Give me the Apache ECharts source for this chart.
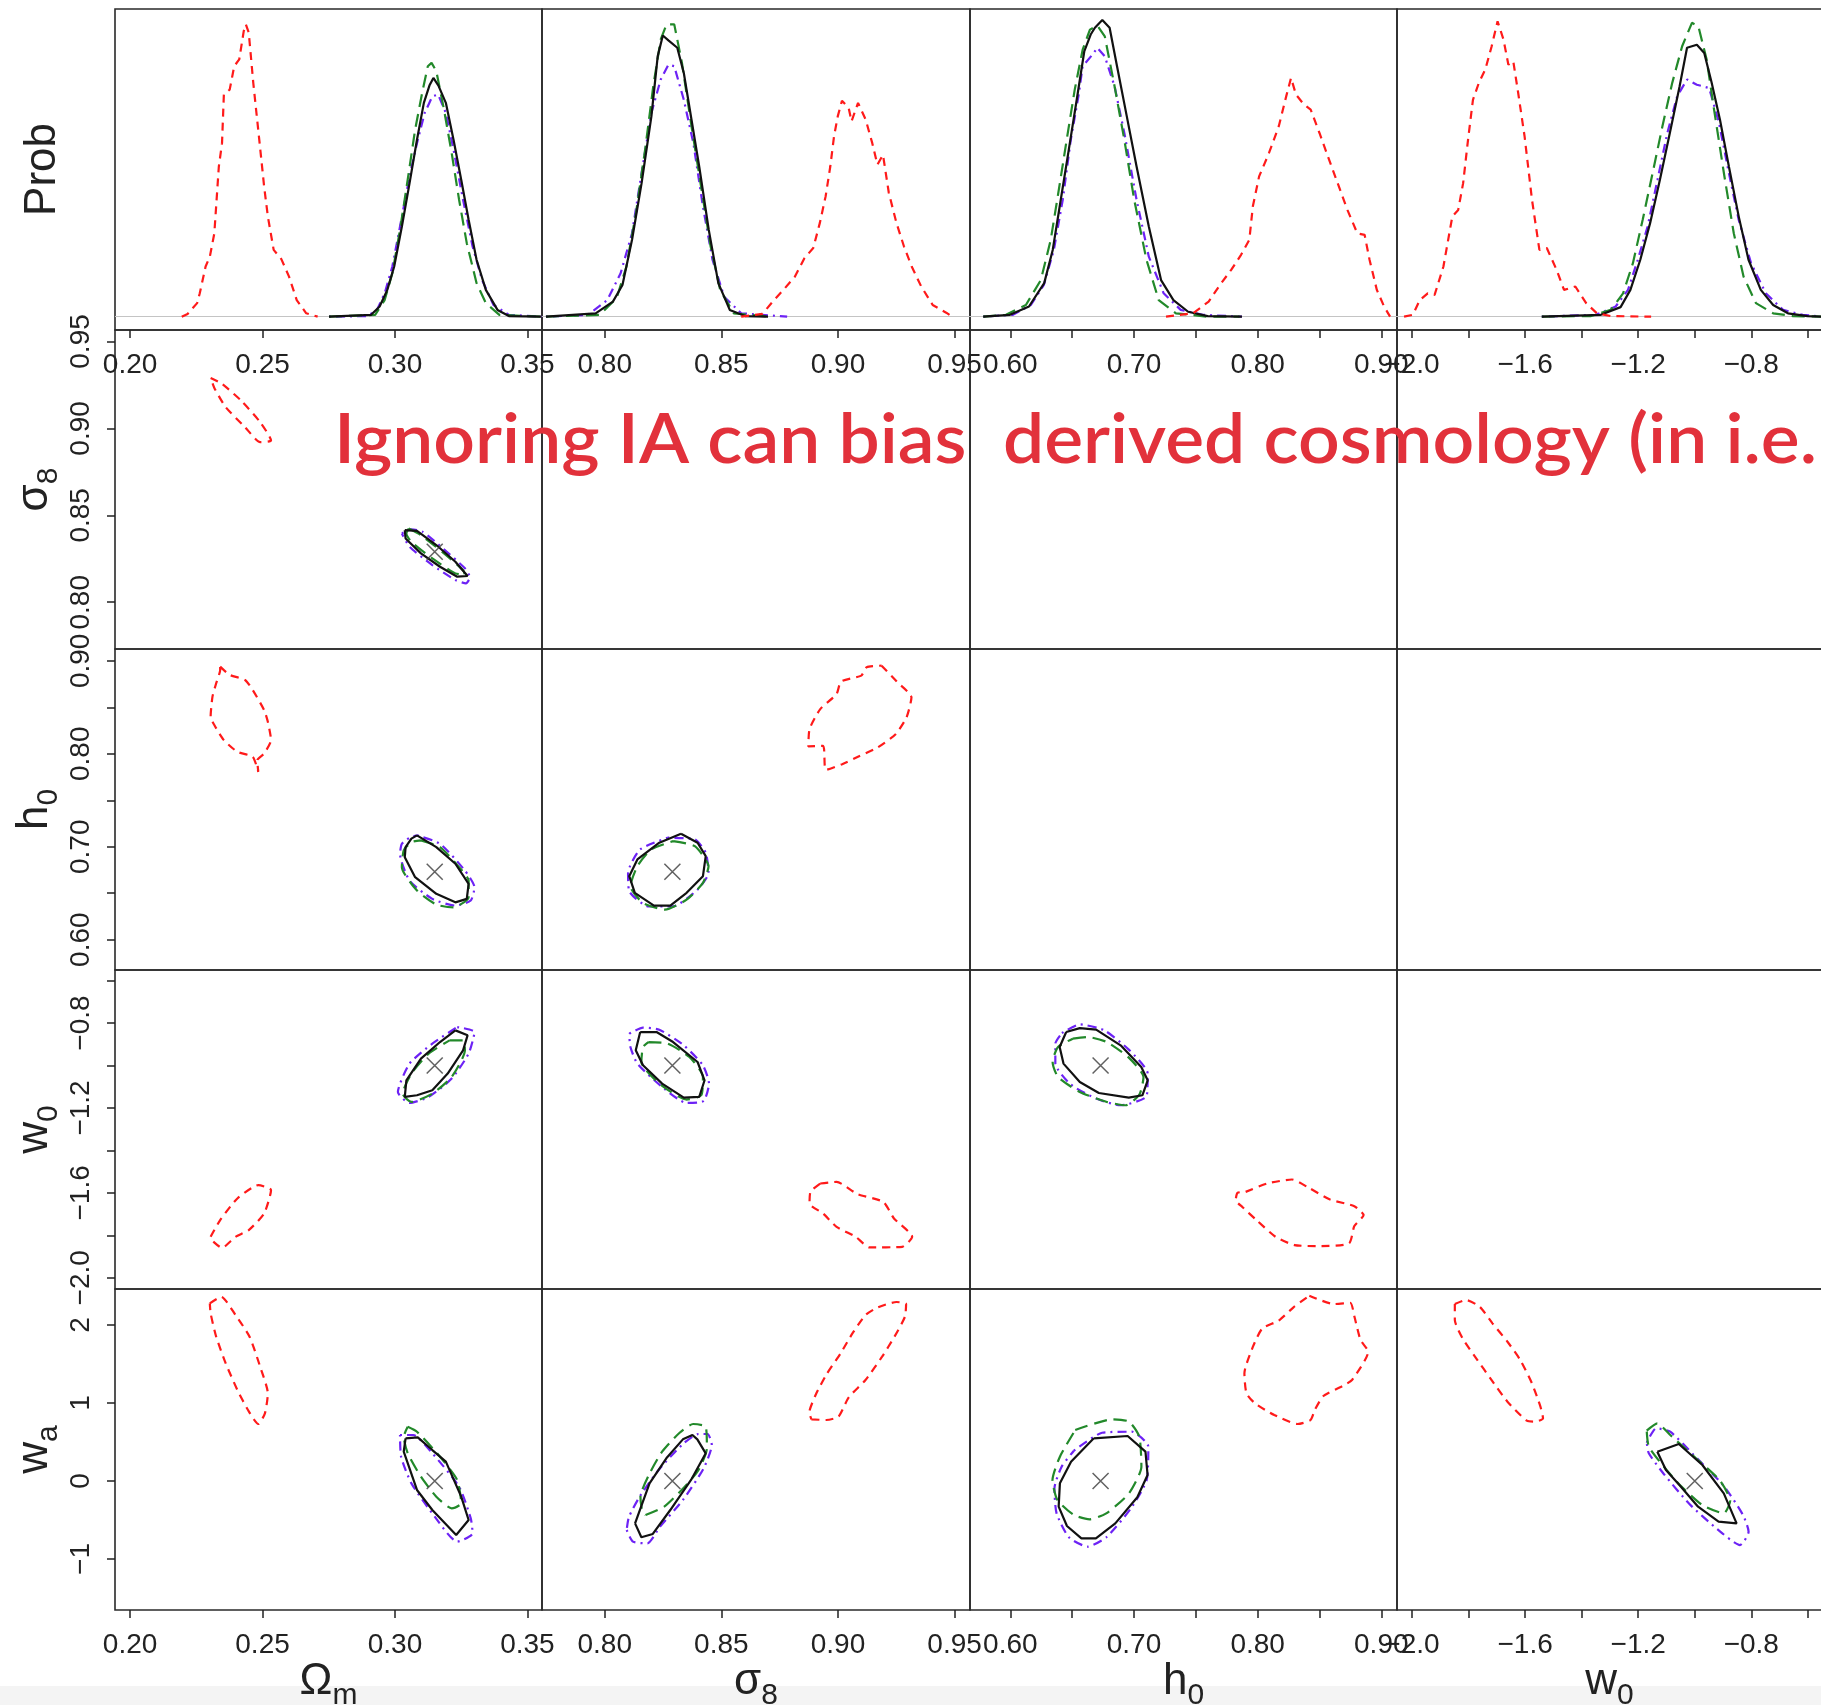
<!DOCTYPE html>
<html>
<head>
<meta charset="utf-8">
<script src="https://cdn.jsdelivr.net/npm/echarts@6/dist/echarts.min.js"></script>
<style>
html, body { margin: 0; padding: 0; background: #fff; }
#chart { width: 1821px; height: 1705px; }
</style>
</head>
<body>
<div id="chart"></div>
<script>
// parameters (order of rows / columns)
const paramNames = ['{m|Ω}{s|m}', '{m|σ}{s|8}', '{m|h}{s|0}', '{m|w}{s|0}', '{m|w}{s|a}']
const fiducial = [0.315, 0.829, 0.673, -1.0, 0.0]

// axis ranges
const omRange = [0.1943, 0.3555]
const s8Range = [0.7731, 0.9566]
const h0Range = [0.5674, 0.9127]
const w0Range = [-2.053, -0.550]
const waRange = [-1.654, 2.462]
const probRange = [-0.0433, 1.0]

// ticks and tick labels
const omTicks = [0.20, 0.25, 0.30, 0.35]
const omLabels = [0.20, 0.25, 0.30, 0.35]
const s8Ticks = [0.80, 0.85, 0.90, 0.95]
const s8Labels = [0.80, 0.85, 0.90, 0.95]
const h0Ticks = [0.60, 0.65, 0.70, 0.75, 0.80, 0.85, 0.90]
const h0Labels = [0.60, 0.70, 0.80, 0.90]
const w0Ticks = [-2.0, -1.8, -1.6, -1.4, -1.2, -1.0, -0.8, -0.6]
const w0Labels = [-2.0, -1.6, -1.2, -0.8]
const waTicks = [-1, 0, 1, 2]
const waLabels = [-1, 0, 1, 2]

// 1D marginals [value, prob]
const om1dBlack = [[0.2751,0],[0.2910,0.006],[0.2942,0.033],[0.2971,0.087],[0.2997,0.163],[0.3026,0.293],[0.3055,0.434],[0.3083,0.575],[0.3109,0.695],[0.3130,0.751],[0.3145,0.776],[0.3164,0.751],[0.3192,0.695],[0.3221,0.575],[0.3250,0.445],[0.3278,0.315],[0.3308,0.185],[0.3343,0.087],[0.3387,0.022],[0.3430,0.002],[0.3553,0]]
const om1dGreen = [[0.2751,0],[0.2925,0.006],[0.2961,0.054],[0.2990,0.141],[0.3019,0.282],[0.3048,0.445],[0.3076,0.608],[0.3105,0.738],[0.3124,0.814],[0.3138,0.825],[0.3156,0.798],[0.3185,0.673],[0.3214,0.532],[0.3242,0.380],[0.3271,0.239],[0.3308,0.109],[0.3343,0.044],[0.3394,0.006],[0.3553,0]]
const om1dPurple = [[0.2751,0],[0.2896,0.002],[0.2932,0.022],[0.2961,0.076],[0.2990,0.163],[0.3019,0.293],[0.3055,0.456],[0.3083,0.564],[0.3112,0.662],[0.3141,0.716],[0.3163,0.722],[0.3192,0.662],[0.3221,0.543],[0.3257,0.380],[0.3293,0.228],[0.3329,0.119],[0.3372,0.038],[0.3430,0.006],[0.3553,0]]
const om1dRed = [[0.2195,0],[0.2217,0.009],[0.2253,0.044],[0.2263,0.076],[0.2285,0.163],[0.2301,0.195],[0.2318,0.271],[0.2335,0.488],[0.2347,0.564],[0.2354,0.722],[0.2376,0.738],[0.2393,0.814],[0.2412,0.836],[0.2429,0.928],[0.2437,0.950],[0.2448,0.923],[0.2465,0.760],[0.2489,0.564],[0.2506,0.423],[0.2520,0.326],[0.2542,0.217],[0.2571,0.187],[0.2600,0.130],[0.2629,0.054],[0.2665,0.011],[0.2708,0]]

const s81dBlack = [[0.7748,0],[0.7961,0.011],[0.8035,0.049],[0.8076,0.103],[0.8117,0.250],[0.8158,0.434],[0.8200,0.651],[0.8227,0.846],[0.8249,0.914],[0.8273,0.898],[0.8311,0.874],[0.8339,0.792],[0.8372,0.640],[0.8405,0.488],[0.8446,0.282],[0.8487,0.109],[0.8536,0.022],[0.8602,0.002],[0.8700,0]]
const s81dGreen = [[0.7748,0],[0.7978,0.006],[0.8051,0.060],[0.8093,0.163],[0.8134,0.337],[0.8175,0.553],[0.8208,0.749],[0.8240,0.901],[0.8265,0.950],[0.8298,0.950],[0.8331,0.825],[0.8372,0.619],[0.8413,0.423],[0.8454,0.228],[0.8495,0.087],[0.8553,0.011],[0.8700,0]]
const s81dPurple = [[0.7748,0],[0.7928,0.006],[0.8011,0.054],[0.8068,0.141],[0.8117,0.271],[0.8158,0.467],[0.8200,0.662],[0.8240,0.771],[0.8273,0.819],[0.8298,0.814],[0.8339,0.705],[0.8380,0.564],[0.8421,0.358],[0.8462,0.185],[0.8512,0.065],[0.8585,0.011],[0.8782,0]]
const s81dRed = [[0.8585,0],[0.8676,0.009],[0.8720,0.049],[0.8766,0.087],[0.8815,0.130],[0.8856,0.190],[0.8894,0.223],[0.8922,0.304],[0.8947,0.391],[0.8967,0.488],[0.8983,0.586],[0.8999,0.651],[0.9017,0.702],[0.9046,0.678],[0.9058,0.635],[0.9086,0.695],[0.9119,0.640],[0.9147,0.564],[0.9169,0.494],[0.9193,0.526],[0.9218,0.402],[0.9251,0.304],[0.9283,0.228],[0.9316,0.163],[0.9357,0.098],[0.9406,0.038],[0.9464,0.013],[0.9485,0.002]]

const h01dBlack = [[0.5781,0],[0.5997,0.006],[0.6151,0.033],[0.6274,0.109],[0.6343,0.217],[0.6408,0.380],[0.6473,0.543],[0.6537,0.705],[0.6598,0.862],[0.6650,0.917],[0.6684,0.939],[0.6744,0.964],[0.6803,0.939],[0.6863,0.814],[0.6942,0.651],[0.7021,0.488],[0.7120,0.293],[0.7219,0.119],[0.7319,0.054],[0.7438,0.016],[0.7596,0.002],[0.7873,0]]
const h01dGreen = [[0.5781,0],[0.5965,0.006],[0.6126,0.038],[0.6247,0.119],[0.6327,0.250],[0.6392,0.412],[0.6456,0.575],[0.6521,0.738],[0.6585,0.868],[0.6644,0.933],[0.6704,0.946],[0.6764,0.911],[0.6843,0.749],[0.6922,0.575],[0.7002,0.380],[0.7101,0.185],[0.7200,0.054],[0.7339,0.011],[0.7596,0],[0.7854,0]]
const h01dPurple = [[0.5781,0],[0.6021,0.006],[0.6166,0.038],[0.6271,0.103],[0.6352,0.217],[0.6424,0.380],[0.6489,0.575],[0.6553,0.722],[0.6585,0.814],[0.6665,0.852],[0.6704,0.874],[0.6764,0.846],[0.6843,0.749],[0.6922,0.597],[0.7021,0.380],[0.7120,0.195],[0.7240,0.076],[0.7378,0.022],[0.7556,0.006],[0.7873,0]]
const h01dRed = [[0.7259,0],[0.7477,0.011],[0.7604,0.049],[0.7695,0.103],[0.7786,0.152],[0.7866,0.201],[0.7933,0.250],[0.7961,0.358],[0.8012,0.456],[0.8092,0.532],[0.8171,0.619],[0.8231,0.716],[0.8270,0.776],[0.8310,0.722],[0.8369,0.692],[0.8429,0.673],[0.8500,0.597],[0.8568,0.521],[0.8647,0.434],[0.8726,0.347],[0.8806,0.271],[0.8865,0.266],[0.8905,0.185],[0.8964,0.087],[0.9023,0.033],[0.9071,0]]

const w01dBlack = [[-1.5409,0],[-1.3320,0.006],[-1.2623,0.031],[-1.2276,0.087],[-1.1926,0.185],[-1.1579,0.304],[-1.1232,0.445],[-1.0881,0.597],[-1.0535,0.749],[-1.0273,0.874],[-0.9926,0.884],[-0.9664,0.857],[-0.9402,0.760],[-0.9108,0.640],[-0.8793,0.488],[-0.8446,0.326],[-0.8099,0.185],[-0.7664,0.087],[-0.7228,0.038],[-0.6704,0.011],[-0.6010,0.002],[-0.5522,0]]
const w01dGreen = [[-1.5409,0],[-1.3667,0.002],[-1.2970,0.022],[-1.2535,0.076],[-1.2187,0.174],[-1.1841,0.315],[-1.1490,0.467],[-1.1143,0.619],[-1.0796,0.760],[-1.0446,0.879],[-1.0099,0.955],[-0.9873,0.944],[-0.9579,0.836],[-0.9317,0.673],[-0.8970,0.467],[-0.8620,0.271],[-0.8273,0.130],[-0.7837,0.044],[-0.7228,0.011],[-0.6531,0.002],[-0.5522,0]]
const w01dPurple = [[-1.5409,0],[-1.3494,0.006],[-1.2797,0.033],[-1.2361,0.087],[-1.2014,0.185],[-1.1667,0.293],[-1.1317,0.445],[-1.0970,0.597],[-1.0623,0.716],[-1.0273,0.771],[-0.9926,0.754],[-0.9490,0.743],[-0.9143,0.630],[-0.8793,0.467],[-0.8446,0.315],[-0.8010,0.174],[-0.7487,0.076],[-0.6878,0.022],[-0.6181,0.006],[-0.5522,0]]
const w01dRed = [[-2.0280,0],[-1.9968,0.006],[-1.9724,0.054],[-1.9444,0.076],[-1.9200,0.071],[-1.8888,0.163],[-1.8573,0.326],[-1.8365,0.347],[-1.8191,0.434],[-1.8018,0.575],[-1.7844,0.705],[-1.7635,0.760],[-1.7409,0.803],[-1.7182,0.879],[-1.6973,0.960],[-1.6765,0.901],[-1.6591,0.819],[-1.6418,0.830],[-1.6244,0.727],[-1.6018,0.586],[-1.5756,0.380],[-1.5494,0.217],[-1.5232,0.223],[-1.4885,0.152],[-1.4623,0.087],[-1.4223,0.098],[-1.3841,0.044],[-1.3459,0.011],[-1.2970,0.002],[-1.1543,0]]

// 2D contours [x, y]
const omS8Black = [[0.3037,0.8415],[0.3083,0.8411],[0.3156,0.8329],[0.3228,0.8233],[0.3274,0.8151],[0.3235,0.8147],[0.3170,0.8204],[0.3098,0.8281],[0.3040,0.8367]]
const omS8Green = [[0.3052,0.8424],[0.3098,0.8386],[0.3185,0.8281],[0.3257,0.8185],[0.3264,0.8157],[0.3228,0.8166],[0.3141,0.8252],[0.3062,0.8347],[0.3043,0.8396]]
const omS8Purple = [[0.3026,0.8396],[0.3062,0.8419],[0.3105,0.8405],[0.3185,0.8304],[0.3264,0.8195],[0.3283,0.8143],[0.3268,0.8109],[0.3228,0.8128],[0.3141,0.8214],[0.3055,0.8319]]
const omS8Red = [[0.2304,0.9290],[0.2347,0.9256],[0.2419,0.9160],[0.2491,0.9036],[0.2532,0.8931],[0.2491,0.8921],[0.2434,0.9007],[0.2361,0.9122],[0.2318,0.9233]]

const omH0Black = [[0.3083,0.7122],[0.3156,0.6996],[0.3228,0.6817],[0.3278,0.6601],[0.3271,0.6439],[0.3228,0.6402],[0.3156,0.6493],[0.3076,0.6672],[0.3037,0.6888],[0.3040,0.6996],[0.3062,0.7087]]
const omH0Green = [[0.3098,0.7068],[0.3170,0.6996],[0.3242,0.6780],[0.3278,0.6636],[0.3278,0.6456],[0.3221,0.6348],[0.3156,0.6378],[0.3083,0.6529],[0.3026,0.6780],[0.3033,0.6960],[0.3062,0.7050]]
const omH0Purple = [[0.3083,0.7122],[0.3170,0.7032],[0.3264,0.6744],[0.3300,0.6564],[0.3286,0.6421],[0.3228,0.6367],[0.3141,0.6439],[0.3055,0.6636],[0.3019,0.6924],[0.3026,0.7032],[0.3055,0.7097]]
const omH0Red = [[0.2340,0.8937],[0.2376,0.8848],[0.2434,0.8794],[0.2463,0.8686],[0.2506,0.8470],[0.2520,0.8344],[0.2532,0.8147],[0.2506,0.8003],[0.2480,0.7931],[0.2484,0.7805],[0.2463,0.7967],[0.2405,0.8021],[0.2354,0.8147],[0.2318,0.8309],[0.2304,0.8398],[0.2311,0.8614],[0.2325,0.8759],[0.2340,0.8902]]

const omW0Black = [[0.3228,-0.8344],[0.3274,-0.8579],[0.3257,-0.9285],[0.3199,-1.0381],[0.3141,-1.1167],[0.3083,-1.1402],[0.3037,-1.1482],[0.3043,-1.0696],[0.3098,-0.9675],[0.3170,-0.8894]]
const omW0Green = [[0.3206,-0.8814],[0.3257,-0.8814],[0.3264,-0.9285],[0.3214,-1.0541],[0.3141,-1.1324],[0.3062,-1.1718],[0.3029,-1.1324],[0.3062,-1.0381],[0.3127,-0.9440]]
const omW0Purple = [[0.3235,-0.8188],[0.3300,-0.8424],[0.3278,-0.9440],[0.3214,-1.0616],[0.3127,-1.1482],[0.3055,-1.1765],[0.3011,-1.1247],[0.3055,-0.9911],[0.3141,-0.8969]]
const omW0Red = [[0.2304,-1.8071],[0.2340,-1.7285],[0.2405,-1.6264],[0.2484,-1.5638],[0.2532,-1.5873],[0.2506,-1.6969],[0.2448,-1.7755],[0.2398,-1.8071],[0.2347,-1.8588],[0.2308,-1.8226]]

const omWaBlack = [[0.3040,0.547],[0.3086,0.560],[0.3141,0.397],[0.3192,0.248],[0.3250,-0.201],[0.3278,-0.500],[0.3231,-0.692],[0.3141,-0.372],[0.3083,-0.115],[0.3033,0.376]]
const omWaGreen = [[0.3048,0.696],[0.3083,0.632],[0.3170,0.312],[0.3235,0.013],[0.3250,-0.286],[0.3214,-0.350],[0.3156,-0.201],[0.3098,0.055],[0.3048,0.355],[0.3033,0.568]]
const omWaPurple = [[0.3019,0.590],[0.3069,0.590],[0.3141,0.355],[0.3242,-0.073],[0.3286,-0.479],[0.3293,-0.671],[0.3235,-0.778],[0.3141,-0.415],[0.3062,-0.030],[0.3023,0.312]]
const omWaRed = [[0.2301,2.278],[0.2344,2.363],[0.2398,2.128],[0.2451,1.850],[0.2491,1.465],[0.2520,1.124],[0.2509,0.868],[0.2484,0.731],[0.2445,0.910],[0.2405,1.167],[0.2361,1.509],[0.2325,1.850],[0.2304,2.150]]

const s8H0Black = [[0.8327,0.7140],[0.8398,0.7043],[0.8433,0.6899],[0.8421,0.6683],[0.8351,0.6504],[0.8281,0.6367],[0.8211,0.6367],[0.8129,0.6504],[0.8105,0.6683],[0.8140,0.6863],[0.8234,0.7043]]
const s8H0Green = [[0.8293,0.7060],[0.8386,0.7006],[0.8445,0.6791],[0.8421,0.6611],[0.8351,0.6431],[0.8258,0.6324],[0.8164,0.6396],[0.8110,0.6575],[0.8140,0.6791],[0.8199,0.6971]]
const s8H0Purple = [[0.8269,0.7097],[0.8386,0.7079],[0.8433,0.6935],[0.8445,0.6719],[0.8398,0.6539],[0.8293,0.6359],[0.8187,0.6359],[0.8105,0.6521],[0.8100,0.6719],[0.8152,0.6971]]
const s8H0Red = [[0.9187,0.8948],[0.9252,0.8776],[0.9315,0.8607],[0.9294,0.8392],[0.9247,0.8211],[0.9170,0.8068],[0.9088,0.7971],[0.9018,0.7888],[0.8948,0.7826],[0.8936,0.8085],[0.8873,0.8079],[0.8878,0.8265],[0.8924,0.8481],[0.8994,0.8643],[0.9013,0.8776],[0.9100,0.8841],[0.9123,0.8931]]

const s8W0Black = [[0.8152,-0.8424],[0.8222,-0.8424],[0.8293,-0.8894],[0.8398,-0.9835],[0.8428,-1.0696],[0.8405,-1.1482],[0.8339,-1.1510],[0.8246,-1.0852],[0.8164,-0.9991],[0.8133,-0.9285]]
const s8W0Green = [[0.8187,-0.8894],[0.8269,-0.8969],[0.8363,-0.9600],[0.8421,-1.0541],[0.8414,-1.1402],[0.8351,-1.1605],[0.8234,-1.0852],[0.8157,-0.9835],[0.8164,-0.9129]]
const s8W0Purple = [[0.8105,-0.8499],[0.8164,-0.8216],[0.8234,-0.8311],[0.8339,-0.9050],[0.8421,-0.9991],[0.8447,-1.0852],[0.8424,-1.1671],[0.8351,-1.1765],[0.8246,-1.1012],[0.8140,-0.9911],[0.8110,-0.9129]]
const s8W0Red = [[0.8924,-1.5558],[0.8994,-1.5482],[0.9084,-1.6061],[0.9194,-1.6424],[0.9240,-1.7205],[0.9318,-1.8071],[0.9276,-1.8541],[0.9135,-1.8569],[0.9076,-1.8071],[0.8994,-1.7600],[0.8936,-1.6969],[0.8878,-1.6499],[0.8882,-1.5953]]

const h0W0Black = [[0.6452,-0.8424],[0.6562,-0.8236],[0.6694,-0.8311],[0.6892,-0.9050],[0.7059,-1.0071],[0.7111,-1.0696],[0.7068,-1.1402],[0.6958,-1.1510],[0.6716,-1.1294],[0.6562,-1.0776],[0.6430,-0.9911],[0.6399,-0.9129]]
const h0W0Green = [[0.6505,-0.8734],[0.6627,-0.8659],[0.6781,-0.8894],[0.6958,-0.9628],[0.7077,-1.0541],[0.7045,-1.1355],[0.6935,-1.1873],[0.6781,-1.1718],[0.6562,-1.1247],[0.6386,-1.0541],[0.6342,-0.9835],[0.6386,-0.9129]]
const h0W0Purple = [[0.6417,-0.8471],[0.6562,-0.8061],[0.6760,-0.8344],[0.6958,-0.9251],[0.7111,-1.0381],[0.7102,-1.1449],[0.6892,-1.1873],[0.6694,-1.1558],[0.6487,-1.0885],[0.6364,-0.9911],[0.6364,-0.8969]]
const h0W0Red = [[0.7903,-1.5953],[0.8079,-1.5558],[0.8277,-1.5370],[0.8409,-1.5746],[0.8585,-1.6311],[0.8782,-1.6626],[0.8857,-1.7049],[0.8782,-1.7567],[0.8739,-1.8381],[0.8497,-1.8508],[0.8298,-1.8461],[0.8145,-1.8071],[0.7991,-1.7285],[0.7881,-1.6688],[0.7823,-1.6344],[0.7837,-1.6000]]

const s8WaBlack = [[0.8130,-0.543],[0.8157,-0.722],[0.8206,-0.679],[0.8281,-0.372],[0.8370,0.013],[0.8433,0.355],[0.8397,0.534],[0.8376,0.590],[0.8335,0.534],[0.8264,0.291],[0.8192,-0.030]]
const s8WaGreen = [[0.8175,-0.436],[0.8255,-0.329],[0.8343,-0.073],[0.8402,0.141],[0.8438,0.419],[0.8433,0.696],[0.8379,0.731],[0.8321,0.619],[0.8246,0.376],[0.8189,0.077],[0.8153,-0.201],[0.8160,-0.372]]
const s8WaPurple = [[0.8094,-0.628],[0.8121,-0.778],[0.8183,-0.799],[0.8237,-0.585],[0.8335,-0.244],[0.8424,0.162],[0.8459,0.461],[0.8441,0.603],[0.8402,0.603],[0.8335,0.474],[0.8231,0.141],[0.8148,-0.209],[0.8103,-0.466]]
const s8WaRed = [[0.8886,0.791],[0.8949,0.782],[0.9002,0.825],[0.9046,1.073],[0.9118,1.295],[0.9189,1.594],[0.9242,1.850],[0.9287,2.106],[0.9292,2.269],[0.9251,2.295],[0.9171,2.227],[0.9118,2.128],[0.9064,1.902],[0.9011,1.637],[0.8949,1.359],[0.8904,1.103],[0.8877,0.876]]

const h0WaBlack = [[0.6675,0.547],[0.6949,0.577],[0.7093,0.376],[0.7110,0.077],[0.7027,-0.209],[0.6849,-0.543],[0.6692,-0.735],[0.6575,-0.735],[0.6458,-0.577],[0.6391,-0.329],[0.6401,-0.030],[0.6491,0.248]]
const h0WaGreen = [[0.6525,0.654],[0.6826,0.791],[0.6960,0.761],[0.7043,0.568],[0.7060,0.184],[0.6960,-0.158],[0.6776,-0.415],[0.6642,-0.491],[0.6514,-0.436],[0.6381,-0.244],[0.6341,0.013],[0.6401,0.312]]
const h0WaPurple = [[0.6514,0.389],[0.6742,0.619],[0.6983,0.632],[0.7116,0.440],[0.7103,0.013],[0.6976,-0.350],[0.6776,-0.722],[0.6625,-0.842],[0.6474,-0.722],[0.6374,-0.415],[0.6357,-0.094],[0.6415,0.184]]
const h0WaRed = [[0.8418,2.376],[0.8618,2.269],[0.8749,2.286],[0.8783,2.106],[0.8832,1.808],[0.8894,1.658],[0.8763,1.295],[0.8687,1.218],[0.8532,1.090],[0.8462,0.910],[0.8428,0.782],[0.8324,0.731],[0.8135,0.846],[0.7979,0.996],[0.7910,1.124],[0.7893,1.381],[0.7962,1.722],[0.8038,1.957],[0.8169,2.055],[0.8290,2.227]]

const w0WaBlack = [[-1.1324,0.376],[-1.0563,0.474],[-0.9731,0.205],[-0.8973,-0.158],[-0.8520,-0.543],[-0.9158,-0.521],[-0.9883,-0.329],[-1.0489,-0.073],[-1.1019,0.141]]
const w0WaGreen = [[-1.1699,0.645],[-1.1324,0.739],[-1.0867,0.590],[-0.9958,0.291],[-0.9126,0.013],[-0.8747,-0.253],[-0.8973,-0.415],[-0.9731,-0.308],[-1.0489,-0.064],[-1.1094,0.184],[-1.1625,0.440]]
const w0WaPurple = [[-1.1699,0.491],[-1.1367,0.676],[-1.0867,0.632],[-1.0035,0.333],[-0.8973,-0.064],[-0.8294,-0.436],[-0.8096,-0.650],[-0.8400,-0.821],[-0.9278,-0.594],[-1.0188,-0.295],[-1.1094,0.090],[-1.1625,0.355]]
const w0WaRed = [[-1.8485,2.269],[-1.8092,2.321],[-1.7607,2.235],[-1.7154,2.022],[-1.6623,1.786],[-1.6170,1.551],[-1.5759,1.253],[-1.5458,0.953],[-1.5366,0.804],[-1.5639,0.761],[-1.5940,0.773],[-1.6623,1.017],[-1.7228,1.316],[-1.7685,1.551],[-1.8212,1.829],[-1.8485,2.064]]

const FONT = '"Liberation Sans", Arial, Helvetica, sans-serif'
const INK = '#222'

const paramRanges = [omRange, s8Range, h0Range, w0Range, waRange]
const paramTicks = [omTicks, s8Ticks, h0Ticks, w0Ticks, waTicks]
const paramLabels = [omLabels, s8Labels, h0Labels, w0Labels, waLabels]
const minus = s => s.replace('-', '\u2212')
const formatters = [
  v => v.toFixed(2), v => v.toFixed(2), v => v.toFixed(2),
  v => minus(v.toFixed(1)), v => minus(String(Math.round(v)))
]

// purple, green, black, red (drawing order)
const lineStyles = [
  { color: '#6d22f5', width: 2.2, type: [2, 5, 9, 5] },
  { color: '#22892a', width: 2.2, type: [13, 7] },
  { color: '#111', width: 2.2, type: 'solid' },
  { color: '#ff1a1a', width: 2.2, type: [8, 6] }
]

const marginals = [
  [om1dPurple, om1dGreen, om1dBlack, om1dRed],
  [s81dPurple, s81dGreen, s81dBlack, s81dRed],
  [h01dPurple, h01dGreen, h01dBlack, h01dRed],
  [w01dPurple, w01dGreen, w01dBlack, w01dRed]
]
const contours = {
  '1-0': [omS8Purple, omS8Green, omS8Black, omS8Red],
  '2-0': [omH0Purple, omH0Green, omH0Black, omH0Red],
  '2-1': [s8H0Purple, s8H0Green, s8H0Black, s8H0Red],
  '3-0': [omW0Purple, omW0Green, omW0Black, omW0Red],
  '3-1': [s8W0Purple, s8W0Green, s8W0Black, s8W0Red],
  '3-2': [h0W0Purple, h0W0Green, h0W0Black, h0W0Red],
  '4-0': [omWaPurple, omWaGreen, omWaBlack, omWaRed],
  '4-1': [s8WaPurple, s8WaGreen, s8WaBlack, s8WaRed],
  '4-2': [h0WaPurple, h0WaGreen, h0WaBlack, h0WaRed],
  '4-3': [w0WaPurple, w0WaGreen, w0WaBlack, w0WaRed]
}

// panel layout
const colLeft = [115, 542, 970, 1397]
const colWidth = [427, 428, 427, 425]
const rowTop = [9, 330, 649, 970, 1289]
const rowHeight = [321, 319, 321, 319, 321]

const nameStyle = {
  color: INK, fontFamily: FONT, fontSize: 44,
  rich: {
    m: { fontSize: 44, fontFamily: FONT, color: INK, lineHeight: 51, verticalAlign: 'top' },
    s: { fontSize: 30, fontFamily: FONT, color: INK, lineHeight: 30, verticalAlign: 'bottom' }
  }
}

const grids = [], xAxes = [], yAxes = [], series = []

for (let r = 0; r < 5; r++) {
  for (let c = 0; c < 4; c++) {
    const gi = r * 4 + c
    grids.push({
      left: colLeft[c], top: rowTop[r], width: colWidth[c], height: rowHeight[r],
      outerBoundsMode: 'none', containLabel: false,
      show: true, borderColor: '#2a2a2a', borderWidth: 1.6, backgroundColor: 'transparent'
    })
    const showX = r === 0 || r === 4
    xAxes.push({
      type: 'value', gridIndex: gi, position: 'bottom',
      min: paramRanges[c][0], max: paramRanges[c][1],
      show: showX,
      axisLine: { show: false, onZero: false }, splitLine: { show: false },
      axisTick: { show: true, length: 8, customValues: paramTicks[c], lineStyle: { color: INK, width: 1.5 } },
      axisLabel: {
        show: true, customValues: paramLabels[c], formatter: formatters[c],
        margin: 21, fontSize: 28, fontFamily: FONT, color: INK
      },
      name: r === 4 ? paramNames[c] : '',
      nameLocation: 'middle', nameGap: 42, nameTextStyle: nameStyle
    })
    const yr = r === 0 ? probRange : paramRanges[r]
    yAxes.push({
      type: 'value', gridIndex: gi, position: 'left',
      min: yr[0], max: yr[1],
      show: c === 0,
      axisLine: { show: false, onZero: false }, splitLine: { show: false },
      axisTick: { show: r > 0, length: 8, customValues: r > 0 ? paramTicks[r] : [], lineStyle: { color: INK, width: 1.5 } },
      axisLabel: {
        show: r > 0, customValues: r > 0 ? paramLabels[r] : [],
        formatter: r > 0 ? formatters[r] : '', rotate: 90,
        margin: 20, fontSize: 28, fontFamily: FONT, color: INK
      },
      name: c === 0 ? (r === 0 ? 'Prob' : paramNames[r]) : '',
      nameLocation: 'middle', nameGap: r === 0 ? 50 : 51, nameTextStyle: nameStyle
    })

    if (r === 0) {
      marginals[c].forEach((d, k) => {
        const s = {
          type: 'line', xAxisIndex: gi, yAxisIndex: gi, data: d,
          symbol: 'none', lineStyle: lineStyles[k], silent: true, z: 3 + k
        }
        if (k === 0) {
          s.markLine = {
            silent: true, symbol: 'none', label: { show: false },
            lineStyle: { color: '#c4c4c4', width: 1.2, type: 'solid' },
            data: [{ yAxis: 0 }], z: 2
          }
        }
        series.push(s)
      })
    } else if (contours[r + '-' + c]) {
      contours[r + '-' + c].forEach((d, k) => {
        series.push({
          type: 'line', xAxisIndex: gi, yAxisIndex: gi, data: d.concat([d[0]]),
          symbol: 'none', smooth: k === 2 ? false : 0.2,
          lineStyle: lineStyles[k], silent: true, z: 3 + k
        })
      })
      series.push({
        type: 'scatter', xAxisIndex: gi, yAxisIndex: gi,
        data: [[fiducial[c], fiducial[r]]],
        symbol: 'path://M0,0L10,10M10,0L0,10', symbolSize: 16,
        itemStyle: { color: 'none', borderColor: '#3a3a3a', borderWidth: 1.5 },
        silent: true, z: 8
      })
    }
  }
}

const chart = echarts.init(document.getElementById('chart'))
chart.setOption({
  animation: false,
  backgroundColor: '#fff',
  grid: grids,
  xAxis: xAxes,
  yAxis: yAxes,
  series: series,
  graphic: [
    {
      type: 'rect', left: 0, top: 1686, silent: true, z: -1,
      shape: { width: 1821, height: 19 }, style: { fill: '#f4f4f4' }
    },
    {
      type: 'text', x: 334, y: 440, scaleX: 1.045, silent: true, z: 100,
      style: {
        text: 'Ignoring IA can bias  derived cosmology (in i.e.',
        fill: '#e2313b', fontSize: 70, fontFamily: 'Lato', fontWeight: 600,
        verticalAlign: 'middle', align: 'left'
      }
    }
  ]
})
</script>
</body>
</html>
